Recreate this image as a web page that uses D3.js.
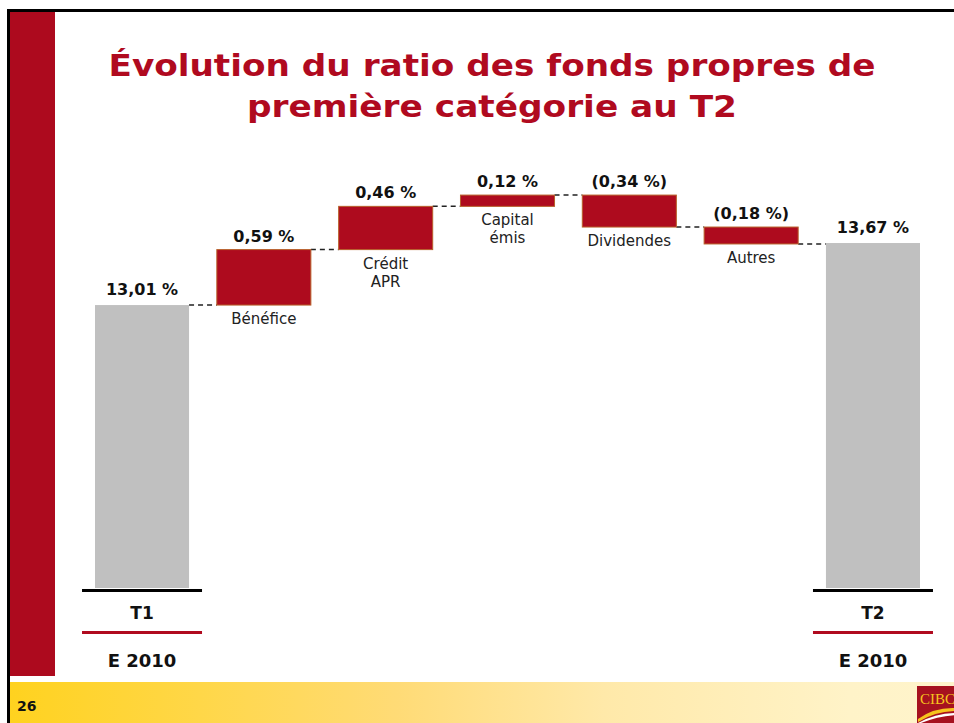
<!DOCTYPE html>
<html><head><meta charset="utf-8">
<script src="https://cdn.jsdelivr.net/npm/d3@7"></script>
<style>html,body{margin:0;padding:0;background:#fff;}svg{display:block;}</style>
</head><body>
<script>
// ---- data ----
const categories = ["T1", "Bénéfice", "Crédit APR", "Capital émis", "Dividendes", "Autres", "T2"];
const categoryLines = [[], ["Bénéfice"], ["Crédit", "APR"], ["Capital", "émis"], ["Dividendes"], ["Autres"], []];
const startValue = 13.01;
const endValue = 13.67;
const deltas = [0.59, 0.46, 0.12, -0.34, -0.18];
const valueLabels = ["13,01 %", "0,59 %", "0,46 %", "0,12 %", "(0,34 %)", "(0,18 %)", "13,67 %"];
const periodLabels = ["T1", "T2"];
const yearLabels = ["E 2010", "E 2010"];
const titleLines = ["Évolution du ratio des fonds propres de", "première catégorie au T2"];
const pageNumber = "26";
const axisFloor = 10;

// build waterfall rows
const rows = [];
let cum = startValue;
rows.push({cat: categories[0], y0: axisFloor, y1: startValue, type: "total"});
deltas.forEach((d, i) => {
  rows.push({cat: categories[i + 1], y0: cum, y1: cum + d, type: "delta"});
  cum += d;
});
rows.push({cat: categories[6], y0: axisFloor, y1: endValue, type: "total"});

const W = 954, H = 723;
const svg = d3.select("body").append("svg").attr("width", W).attr("height", H)
  .style("font-family", "'DejaVu Sans', Verdana, sans-serif");

const defs = svg.append("defs");
const grad = defs.append("linearGradient").attr("id", "foot").attr("x1", 0).attr("x2", 1).attr("y1", 0).attr("y2", 0);
[[0, "#FFD21F"], [0.2, "#FFD748"], [0.41, "#FFDB76"], [0.63, "#FFE9A9"], [0.89, "#FFF3C8"], [1, "#FFF4CB"]]
  .forEach(([o, c]) => grad.append("stop").attr("offset", o).attr("stop-color", c));

// frame
svg.append("rect").attr("x", 7).attr("y", 9).attr("width", W - 7).attr("height", 3).attr("fill", "#000");
svg.append("rect").attr("x", 7).attr("y", 9).attr("width", 3).attr("height", H - 9).attr("fill", "#000");
// red sidebar
svg.append("rect").attr("x", 10).attr("y", 12).attr("width", 45).attr("height", 664).attr("fill", "#AD0A1E");
// footer
svg.append("rect").attr("x", 10).attr("y", 682).attr("width", W - 10).attr("height", H - 682).attr("fill", "url(#foot)");
svg.append("text").attr("x", 17).attr("y", 711).attr("font-size", 14).attr("font-weight", "bold").attr("fill", "#111").text(pageNumber);

// CIBC logo
const logo = svg.append("g");
logo.append("rect").attr("x", 917).attr("y", 686).attr("width", 40).attr("height", 40).attr("fill", "#A6111F");
logo.append("text").attr("x", 920).attr("y", 704).attr("font-family", "'Liberation Serif', serif").attr("font-size", 15)
  .attr("fill", "#F6C41E").text("CIBC");
logo.append("path").attr("d", "M918,719 Q934,707 956,708 L956,711 Q936,711 918,722 Z").attr("fill", "#F6C41E");
logo.append("path").attr("d", "M918,723 Q936,713 956,713 L956,715 Q938,716 921,723 Z").attr("fill", "#fff");

// title
const tl = [{t: titleLines[0], y: 76, len: 767}, {t: titleLines[1], y: 117, len: 490}];
svg.selectAll("text.title").data(tl).join("text").attr("class", "title")
  .attr("x", 492).attr("y", d => d.y).attr("text-anchor", "middle")
  .attr("font-size", 30).attr("font-weight", "bold").attr("fill", "#B00A1F")
  .attr("textLength", d => d.len).attr("lengthAdjust", "spacingAndGlyphs")
  .text(d => d.t);

// scales
const x = d3.scaleBand().domain(categories).range([95, 920]).paddingInner(0.228).paddingOuter(0);
const y = d3.scaleLinear().domain([axisFloor, 14]).range([588, 212]);

// connectors
const conn = [];
for (let i = 0; i < rows.length - 1; i++) {
  conn.push({x1: x(rows[i].cat) + x.bandwidth(), x2: x(rows[i + 1].cat), v: rows[i].y1});
}
svg.selectAll("line.conn").data(conn).join("line").attr("class", "conn")
  .attr("x1", d => d.x1).attr("x2", d => d.x2).attr("y1", d => y(d.v)).attr("y2", d => y(d.v))
  .attr("stroke", "#222").attr("stroke-width", 1.5).attr("stroke-dasharray", "5,4");

// bars
svg.selectAll("rect.bar").data(rows).join("rect").attr("class", "bar")
  .attr("x", d => x(d.cat)).attr("width", x.bandwidth())
  .attr("y", d => y(Math.max(d.y0, d.y1)))
  .attr("height", d => Math.abs(y(d.y0) - y(d.y1)))
  .attr("fill", d => d.type === "total" ? "#C0C0C0" : "#AE0B1E")
  .attr("stroke", d => d.type === "total" ? "none" : "#B8602A")
  .attr("stroke-width", 1);

// value labels
svg.selectAll("text.val").data(rows).join("text").attr("class", "val")
  .attr("x", d => x(d.cat) + x.bandwidth() / 2)
  .attr("y", d => y(Math.max(d.y0, d.y1)) - (d.type === "total" ? 10 : 8))
  .attr("text-anchor", "middle").attr("font-size", 16).attr("font-weight", "bold").attr("fill", "#111")
  .text((d, i) => valueLabels[i]);

// category labels
rows.forEach((d, i) => {
  const lines = categoryLines[i];
  if (!lines.length) return;
  const base = y(Math.min(d.y0, d.y1)) + 19;
  const t = svg.append("text").attr("text-anchor", "middle").attr("font-size", 15).attr("fill", "#222");
  lines.forEach((ln, j) => t.append("tspan").attr("x", x(d.cat) + x.bandwidth() / 2).attr("y", base + j * 18).text(ln));
});

// axis segments under totals
const totals = rows.filter(d => d.type === "total");
totals.forEach((d, i) => {
  const cx = x(d.cat) + x.bandwidth() / 2;
  svg.append("rect").attr("x", cx - 60).attr("y", 589).attr("width", 120).attr("height", 3).attr("fill", "#000");
  svg.append("rect").attr("x", cx - 60).attr("y", 631).attr("width", 120).attr("height", 3).attr("fill", "#B00A1F");
  svg.append("text").attr("x", cx).attr("y", 619).attr("text-anchor", "middle").attr("font-size", 17)
    .attr("font-weight", "bold").attr("fill", "#111").text(periodLabels[i]);
  svg.append("text").attr("x", cx).attr("y", 667).attr("text-anchor", "middle").attr("font-size", 18)
    .attr("font-weight", "bold").attr("fill", "#111").text(yearLabels[i]);
});
</script>
</body></html>
